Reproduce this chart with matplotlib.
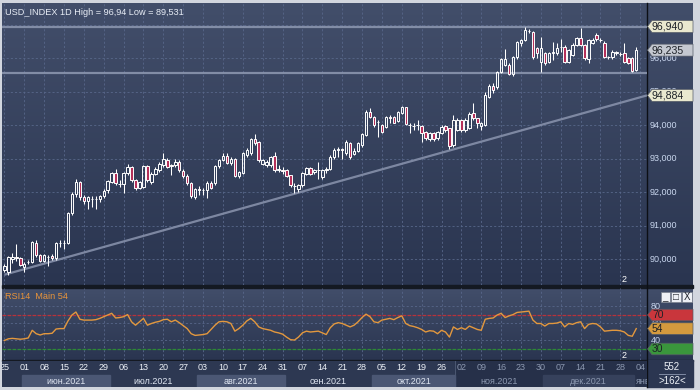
import numpy as np
import pandas as pd
import matplotlib
matplotlib.use("Agg")
import matplotlib.pyplot as plt
from matplotlib.patches import Polygon, Rectangle
from matplotlib.colors import LinearSegmentedColormap

plt.rcParams['font.family'] = ['Liberation Sans', 'DejaVu Sans']

# ---------------- data ----------------
opens = [89.68, 89.62, 90.00, 90.05, 90.02, 89.75, 89.90, 89.92, 90.48, 90.12,
         89.95, 90.05, 90.08, 90.02, 90.49, 90.47, 90.48, 91.38, 91.95, 92.30,
         91.84, 91.72, 91.80, 91.78, 91.78, 91.87, 92.05, 92.30, 92.56, 92.25,
         92.25, 92.56, 92.74, 92.36, 92.11, 92.16, 92.78, 92.31, 92.55, 92.65,
         92.80, 92.97, 92.82, 92.80, 92.90, 92.63, 92.48, 92.28, 91.86, 92.08,
         92.05, 92.06, 92.28, 92.27, 92.78, 92.96, 93.07, 92.86, 93.00, 92.48,
         92.58, 93.10, 93.15, 93.57, 93.50, 92.85, 92.80, 92.80, 93.07, 92.66,
         92.66, 92.66, 92.50, 92.17, 92.08, 92.20, 92.54, 92.71, 92.60, 92.66,
         92.44, 92.66, 92.70, 93.05, 93.25, 93.27, 93.15, 93.47, 93.13, 93.23,
         93.40, 93.70, 94.40, 94.25, 94.10, 94.00, 93.95, 94.23, 94.23, 94.13,
         94.37, 94.53, 94.00, 93.97, 94.00, 93.97, 93.80, 93.57, 93.77, 93.60,
         93.77, 93.97, 93.90, 93.40, 93.85, 94.15, 93.85, 93.90, 94.35, 94.20,
         93.97, 94.00, 94.85, 95.16, 95.12, 95.59, 95.79, 95.79, 95.52, 96.02,
         96.46, 96.54, 96.82, 96.78, 96.29, 95.89, 96.14, 95.89, 96.16, 96.14,
         96.32, 96.34, 95.89, 96.09, 96.39, 96.59, 96.39, 95.96, 96.46, 96.69,
         96.54, 96.46, 96.02, 96.02, 96.16, 96.12, 96.16, 95.99, 95.99, 95.64]
highs = [89.85, 90.10, 90.17, 90.44, 90.05, 89.90, 89.97, 90.55, 90.58, 90.15,
         90.15, 90.12, 90.15, 90.52, 90.57, 90.57, 91.40, 92.00, 92.40, 92.33,
         91.90, 91.88, 91.88, 91.88, 91.92, 92.08, 92.36, 92.60, 92.70, 92.35,
         92.60, 92.84, 92.78, 92.38, 92.34, 92.82, 92.82, 92.60, 92.75, 92.90,
         93.15, 93.02, 92.85, 92.98, 92.95, 92.68, 92.55, 92.30, 92.12, 92.17,
         92.12, 92.32, 92.32, 92.80, 93.00, 93.17, 93.17, 93.05, 93.03, 92.64,
         93.20, 93.30, 93.60, 93.73, 93.53, 93.00, 92.95, 93.08, 93.20, 92.80,
         92.75, 92.70, 92.52, 92.26, 92.25, 92.60, 92.76, 92.75, 92.70, 92.90,
         92.70, 92.74, 93.10, 93.30, 93.33, 93.30, 93.55, 93.50, 93.30, 93.50,
         93.76, 94.45, 94.50, 94.28, 94.15, 94.03, 94.28, 94.30, 94.28, 94.42,
         94.56, 94.55, 94.07, 94.05, 94.15, 94.00, 93.83, 93.80, 93.80, 93.83,
         94.00, 94.00, 93.92, 94.30, 94.20, 94.18, 94.20, 94.38, 94.65, 94.22,
         94.10, 95.00, 95.22, 95.24, 95.62, 95.99, 96.26, 95.85, 96.05, 96.52,
         96.58, 96.94, 96.88, 96.80, 96.34, 96.64, 96.17, 96.18, 96.49, 96.44,
         96.56, 96.38, 96.28, 96.46, 96.62, 96.90, 96.42, 96.58, 96.60, 96.74,
         96.60, 96.50, 96.07, 96.24, 96.22, 96.18, 96.46, 96.02, 96.02, 96.34]
lows = [89.62, 89.531, 89.87, 89.95, 89.78, 89.62, 89.85, 89.88, 90.05, 89.90,
        89.90, 89.80, 89.97, 89.98, 90.35, 90.30, 90.45, 91.30, 91.85, 91.75,
        91.65, 91.50, 91.55, 91.50, 91.70, 91.82, 91.98, 92.28, 92.20, 92.15,
        91.98, 92.50, 92.30, 92.05, 92.08, 92.12, 92.30, 92.25, 92.50, 92.60,
        92.75, 92.72, 92.50, 92.75, 92.60, 92.42, 92.20, 91.82, 91.78, 91.90,
        91.90, 91.82, 92.08, 92.22, 92.72, 92.92, 92.84, 92.82, 92.44, 92.42,
        92.55, 93.05, 93.10, 93.40, 92.90, 92.80, 92.75, 92.75, 92.60, 92.60,
        92.55, 92.44, 92.15, 91.96, 92.00, 92.15, 92.50, 92.50, 92.55, 92.40,
        92.40, 92.58, 92.65, 93.00, 93.05, 93.00, 93.10, 93.00, 93.10, 93.20,
        93.35, 93.67, 94.20, 93.95, 93.65, 93.75, 93.90, 94.07, 94.05, 94.10,
        94.33, 94.00, 93.75, 93.85, 93.85, 93.50, 93.55, 93.53, 93.52, 93.55,
        93.72, 93.80, 93.27, 93.35, 93.82, 93.80, 93.80, 93.87, 94.15, 93.90,
        93.85, 93.97, 94.82, 94.96, 95.08, 95.55, 95.75, 95.48, 95.45, 95.98,
        96.35, 96.50, 96.74, 95.98, 95.99, 95.59, 95.79, 95.85, 95.94, 96.10,
        96.19, 95.84, 95.85, 96.05, 96.35, 96.35, 95.95, 95.84, 96.42, 96.50,
        96.48, 95.99, 95.97, 95.98, 96.10, 96.06, 95.85, 95.82, 95.58, 95.60]
closes = [89.80, 90.07, 90.05, 90.02, 89.82, 89.85, 89.92, 90.52, 90.12, 89.95,
          90.12, 90.05, 90.02, 90.49, 90.47, 90.48, 91.38, 91.95, 92.30, 91.84,
          91.72, 91.84, 91.78, 91.80, 91.87, 92.02, 92.33, 92.56, 92.26, 92.24,
          92.56, 92.74, 92.36, 92.11, 92.31, 92.78, 92.36, 92.55, 92.70, 92.83,
          93.00, 92.76, 92.77, 92.90, 92.65, 92.48, 92.26, 91.88, 92.08, 92.07,
          92.06, 92.28, 92.12, 92.78, 92.97, 93.07, 92.88, 93.00, 92.48, 92.60,
          93.15, 93.25, 93.57, 93.45, 92.95, 92.97, 92.90, 93.05, 92.66, 92.70,
          92.64, 92.48, 92.20, 92.19, 92.21, 92.56, 92.71, 92.54, 92.66, 92.65,
          92.66, 92.68, 93.05, 93.25, 93.27, 93.25, 93.50, 93.05, 93.23, 93.47,
          93.73, 94.40, 94.25, 94.00, 94.08, 93.80, 94.25, 94.22, 94.07, 94.40,
          94.53, 94.03, 93.99, 93.97, 94.00, 93.77, 93.60, 93.75, 93.57, 93.80,
          93.95, 93.85, 93.37, 94.15, 94.15, 93.85, 94.15, 94.33, 94.20, 94.05,
          94.05, 94.90, 95.16, 95.04, 95.59, 95.96, 95.96, 95.52, 96.02, 96.49,
          96.54, 96.83, 96.80, 96.04, 96.14, 96.29, 95.84, 96.14, 96.17, 96.29,
          96.33, 95.89, 96.24, 96.39, 96.59, 96.39, 95.99, 96.54, 96.54, 96.56,
          96.53, 96.04, 96.03, 96.19, 96.17, 96.13, 95.89, 95.86, 95.62, 96.235]
rsi = [40, 42, 42.5, 42, 41.5, 42, 43, 52, 48, 46.5,
       48, 48, 48.5, 53.5, 54, 54, 63, 70, 73.5, 65,
       64, 64, 64, 64.5, 66, 68, 70, 72, 66.5, 67,
       68, 70.5, 62, 58, 62, 66, 58, 60, 61.5, 62.5,
       64.5, 65, 62, 64, 61, 57.5, 54, 48, 46, 46.5,
       47, 48, 53, 58, 62, 62.5, 62, 60, 51, 54,
       58, 63, 66, 62, 56, 54, 53, 52, 50, 49,
       47.5, 44, 41, 40.5, 44, 49, 51, 50, 50.5, 51,
       49, 47, 55, 59.5, 61, 60, 58, 56, 58, 62,
       67, 71, 68, 62, 61, 64, 65, 66, 64.5, 67,
       69, 60, 57.5, 56.5, 55, 53, 50, 51.5, 51, 48,
       52, 50, 44, 56, 53, 55, 53, 57, 55, 53,
       52, 65, 66, 66.5, 70, 72, 67, 69, 70.5, 73,
       73.5, 74, 74.5, 64, 60, 60, 57, 60, 60, 60.5,
       62, 56, 60, 59, 61, 62, 54, 59, 60, 59.5,
       56, 51, 51.5, 52, 52, 51.5, 50, 46, 45, 54]

title = "USD_INDEX 1D High = 96,94 Low = 89,531"
rsi_title = "RSI14  Main 54"
levels = [96.94, 95.55]
trend_points = [(0, 89.531), (161.7, 94.884)]
price_ticks = [90, 91, 92, 93, 94, 95, 96]
price_tags = [96.940, 96.235, 94.884]
rsi_ticks = [80, 60, 40]
rsi_levels = [70, 30]
rsi_tags = [70, 54, 30]
month_names = ['май.2021', 'июн.2021', 'июл.2021', 'авг.2021', 'сен.2021',
               'окт.2021', 'ноя.2021', 'дек.2021', 'янв.2022']
dates = pd.bdate_range('2021-05-25', '2022-01-04')
n = len(closes)
idx = np.arange(n)

# ---------------- figure ----------------
W, H = 700, 390
fig = plt.figure(figsize=(7, 3.9), dpi=100)
fig.patch.set_facecolor('#d2d6de')

def px_axes(x0, y0, x1, y1, z):
    return fig.add_axes([x0 / W, 1 - y1 / H, (x1 - x0) / W, (y1 - y0) / H], zorder=z)

under = px_axes(0, 0, W, H, 0)
under.set_xlim(0, W); under.set_ylim(H, 0); under.axis('off')
over = px_axes(0, 0, W, H, 10)
over.set_xlim(0, W); over.set_ylim(H, 0); over.axis('off')
over.patch.set_alpha(0)

cm = LinearSegmentedColormap.from_list('bg', ['#424e6a', '#2a3550'])
grad = np.linspace(0, 1, 256).reshape(-1, 1)
under.imshow(grad, cmap=cm, extent=(2, 693, 285, 3), aspect='auto', zorder=0)
under.imshow(grad, cmap=cm, extent=(2, 693, 360, 288), aspect='auto', zorder=0)
under.add_patch(Rectangle((2, 285), 691, 3, color='#141922', zorder=1))
under.add_patch(Rectangle((2, 359.5), 691, 1.2, color='#141922', zorder=1))
under.add_patch(Rectangle((647, 360), 46, 27, color='#2b3651', zorder=1))
under.plot([647, 647], [3, 387], color='#0c0f15', lw=1.0, zorder=2)

xlim = ((1 - 3.4) / 3.98, (647 - 3.4) / 3.98)
GRID = dict(color='#58678a', lw=0.6, ls=(0, (2.5, 2.5)))

# ---------------- main price pane ----------------
ax = px_axes(2, 3, 647, 285, 2)
ax.patch.set_alpha(0)
ax.set_xlim(*xlim)
ax.set_ylim(89.224, 97.642)
for s in ax.spines.values():
    s.set_visible(False)
ax.set_xticks([]); ax.set_yticks([])
for i in range(0, n + 5, 5):
    ax.axvline(i, **GRID, zorder=1)
for v in price_ticks + [97]:
    ax.axhline(v, **GRID, zorder=1)
for lv in levels:
    ax.axhline(lv, color='#8a95ae', lw=1.6, alpha=0.9, zorder=2)
ax.plot([p[0] for p in trend_points], [p[1] for p in trend_points],
        color='#8690aa', lw=1.6, alpha=0.9, zorder=2, solid_capstyle='butt')

o = np.array(opens); c = np.array(closes); h = np.array(highs); l = np.array(lows)
bot = np.minimum(o, c); top = np.maximum(o, c)
ax.vlines(idx, l, bot, color='white', lw=0.75, zorder=3)
ax.vlines(idx, top, h, color='white', lw=0.75, zorder=3)
up = c >= o
hgt = np.maximum(top - bot, 0.004)
ax.bar(idx[up], hgt[up], bottom=bot[up], width=0.62, facecolor='none',
       edgecolor='white', linewidth=0.7, zorder=4)
ax.bar(idx[~up], hgt[~up], bottom=bot[~up], width=0.62, facecolor='#b5305a',
       edgecolor='white', linewidth=0.7, zorder=4)
ax.text(0.005, 0.968, title, transform=ax.transAxes, color='#e8edf6',
        fontsize=6.6, ha='left', va='center', zorder=6)
over.text(624, 279, '2', color='white', fontsize=6.5, ha='center', va='center', zorder=6)

# ---------------- RSI pane ----------------
rax = px_axes(2, 288, 647, 360, 2)
rax.patch.set_alpha(0)
rax.set_xlim(*xlim)
rax.set_ylim(17.06, 101.76)
for s in rax.spines.values():
    s.set_visible(False)
rax.set_xticks([]); rax.set_yticks([])
for i in range(0, n + 5, 5):
    rax.axvline(i, **GRID, zorder=1)
for v in rsi_ticks:
    rax.axhline(v, **GRID, zorder=1)
rax.axhline(rsi_levels[0], color='#b8323a', lw=0.9, ls=(0, (3, 1)), zorder=2)
rax.axhline(rsi_levels[1], color='#2d8a36', lw=0.9, ls=(0, (3, 1)), zorder=2)
rax.plot(idx, rsi, color='#e3983e', lw=1.0, zorder=3)
rax.text(0.005, 0.88, rsi_title, transform=rax.transAxes, color='#e8943a',
         fontsize=6.6, ha='left', va='center')
over.text(624, 355, '2', color='white', fontsize=6.5, ha='center', va='center')

# ---------------- date axis ----------------
dax = px_axes(2, 360.5, 647, 387, 2)
dax.set_xlim(*xlim); dax.set_ylim(0, 1)
dax.set_xticks([]); dax.set_yticks([])
for s in dax.spines.values():
    s.set_visible(False)
dax.set_facecolor('#2d3852')
split = 113.5
dax.axvspan(split, xlim[1], color='#263049', zorder=0)
dax.axvline(split, color='#4a5670', lw=0.8, zorder=1)
months = dates[:n].to_period('M')
uniq = months.unique()
for k, m in enumerate(uniq):
    sel = np.where(months == m)[0]
    a0, a1 = sel[0] - 0.5, sel[-1] + 0.5
    if k % 2 == 1:
        col = '#4b5774' if a0 < split else '#36415c'
        dax.axvspan(a0, a1, ymin=0, ymax=0.44, color=col, zorder=1)
    if k == 0:
        continue
    tcol = '#dfe6f2' if a0 < split else '#8c98b0'
    name = month_names[k]
    if sel[-1] == n - 1 and len(sel) < 5:
        dax.text(a0 + 0.3, 0.22, name, color=tcol, fontsize=6.5, ha='left',
                 va='center', clip_on=True)
    else:
        dax.text((a0 + a1) / 2, 0.22, name, color=tcol, fontsize=6.5,
                 ha='center', va='center', clip_on=True)
for i in range(0, len(dates), 5):
    tcol = '#eef2f8' if i < split else '#8c98b0'
    dax.text(i, 0.74, dates[i].strftime('%d'), color=tcol, fontsize=6.5,
             ha='center', va='center', clip_on=True)

# ---------------- right scale labels / tags ----------------
def ypix(axis, v):
    d = axis.transData.transform((0, v))
    return over.transData.inverted().transform(d)[1]

def fmt(v, dec):
    return f"{v:.{dec}f}".replace('.', ',')

for v in price_ticks:
    over.text(650, ypix(ax, v), f"{v},000", color='#c9d6ee', fontsize=6.5,
              ha='left', va='center', zorder=1)

def tag(y, label, fc, hh=6.0, fs=7.6):
    poly = Polygon([(647.5, y), (652, y - hh), (693, y - hh), (693, y + hh),
                    (652, y + hh)], closed=True, facecolor=fc,
                   edgecolor='#555b66', lw=0.5, zorder=3)
    over.add_patch(poly)
    over.text(652, y + 0.3, label, color='#1e2228', fontsize=fs, ha='left',
              va='center', zorder=4)

tag_colors = ['#e9e8cf', '#c4c8d0', '#e9e8cf']
for v, fc in zip(price_tags, tag_colors):
    tag(ypix(ax, v), fmt(v, 3), fc)

for v in rsi_ticks:
    over.text(651, ypix(rax, v), str(v), color='#c9d6ee', fontsize=6.5,
              ha='left', va='center', zorder=1)
for v, fc in zip(rsi_tags, ['#c9363c', '#d49a3e', '#3a963c']):
    tag(ypix(rax, v), str(v), fc, hh=5.8, fs=7.4)

# window buttons
for k, g in enumerate(['_', '□', 'X']):
    x0 = 660.5 + k * 10.8
    over.add_patch(Rectangle((x0, 291.5), 9.5, 10, facecolor='#eef0f4',
                             edgecolor='#7a808c', lw=0.5, zorder=3))
    over.text(x0 + 4.75, 296.7, g, color='#20242c', fontsize=7, ha='center',
              va='center', zorder=4)

# bottom right counters
over.text(672, 367, '552', color='#eef2f8', fontsize=7, ha='center', va='center')
over.plot([659, 685], [374, 374], color='#8c98b0', lw=0.6)
over.text(672, 381, '>162<', color='#eef2f8', fontsize=7, ha='center', va='center')

fig.savefig('out.png', dpi=100, facecolor=fig.get_facecolor())
